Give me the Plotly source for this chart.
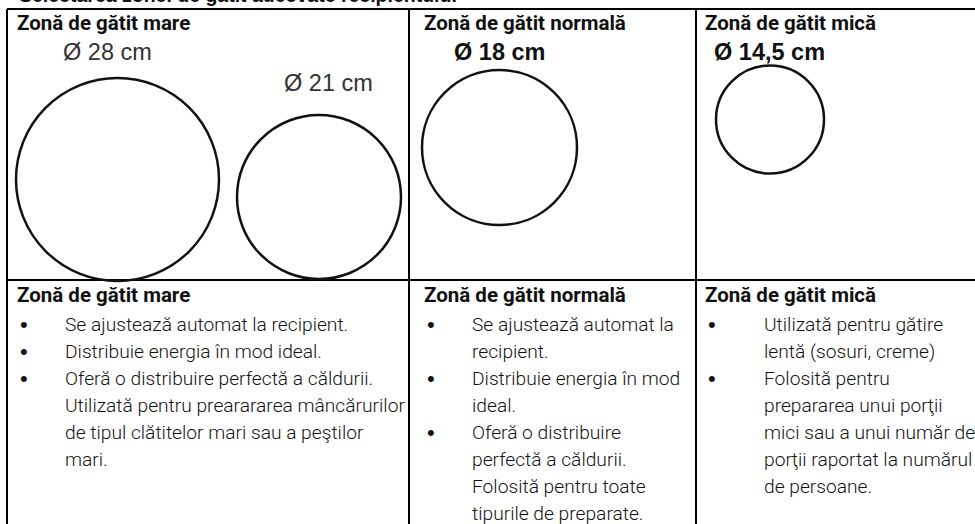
import plotly.graph_objects as go

# ---------------- data ----------------
title_text = "Selectarea zonei de gătit adecvate recipientului"
zones = ["Zonă de gătit mare", "Zonă de gătit normală", "Zonă de gătit mică"]
diameter_labels = ["Ø 28 cm", "Ø 21 cm", "Ø 18 cm", "Ø 14,5 cm"]
diameter_cm = [28, 21, 18, 14.5]
label_bold = [False, False, True, True]

bullets_mare = [
    ["Se ajustează automat la recipient."],
    ["Distribuie energia în mod ideal."],
    ["Oferă o distribuire perfectă a căldurii.",
     "Utilizată pentru prearararea mâncărurilor",
     "de tipul clătitelor mari sau a peştilor",
     "mari."],
]
bullets_normala = [
    ["Se ajustează automat la", "recipient."],
    ["Distribuie energia în mod", "ideal."],
    ["Oferă o distribuire", "perfectă a căldurii.",
     "Folosită pentru toate", "tipurile de preparate."],
]
bullets_mica = [
    ["Utilizată pentru gătire", "lentă (sosuri, creme)"],
    ["Folosită pentru", "prepararea unui porţii",
     "mici sau a unui număr de", "porţii raportat la numărul",
     "de persoane."],
]
bullets = [bullets_mare, bullets_normala, bullets_mica]

# ---------------- layout (positions / styles) ----------------
W, H = 975, 524
col_sep = [7, 409, 696]
top_y, row_y = 9, 280
head_x = [15, 422, 703]
body_x = [63, 470, 762]
head1_y, head2_y = 23, 295
line0_y, line_step = 324, 27
# circle geometry: (cx, cy, r) and label (x, y)
circ_geo = [(117.5, 179.5, 101.5), (319, 197, 82), (499.5, 147.5, 77.5), (770, 119.5, 54)]
label_pos = [(107, 52), (328, 83), (499, 52), (769, 52)]

HEAD_FONT = dict(family="Roboto", size=20.5, color="#111111", weight=700)
BODY_FONT = dict(family="Roboto", size=19.2, color="#111111", weight=300)

fig = go.Figure()
fig.add_trace(go.Scatter(x=[0, W], y=[0, H], mode="markers",
                         marker=dict(opacity=0), hoverinfo="skip", showlegend=False))

shapes = []
# table lines
shapes.append(dict(type="line", x0=col_sep[0], x1=W + 5, y0=top_y, y1=top_y,
                   line=dict(color="black", width=2)))
shapes.append(dict(type="line", x0=col_sep[0], x1=W + 5, y0=row_y, y1=row_y,
                   line=dict(color="black", width=2)))
for xs in col_sep:
    shapes.append(dict(type="line", x0=xs, x1=xs, y0=top_y, y1=H + 5,
                       line=dict(color="black", width=2)))
# circles
for (cx, cy, r) in circ_geo:
    shapes.append(dict(type="circle", x0=cx - r, x1=cx + r, y0=cy - r, y1=cy + r,
                       line=dict(color="#111111", width=2.5)))

ann = []
# title (cut off at the top edge, as in the reference)
ann.append(dict(text="<b>" + title_text + "</b>", xref="paper", yref="paper",
                x=17 / W, y=1 + 5.5 / H, xanchor="left", yanchor="middle",
                showarrow=False, font=dict(family="Liberation Sans", size=19.5, color="#111111")))
# headers
for i, z in enumerate(zones):
    for hy in (head1_y, head2_y):
        ann.append(dict(text=z, x=head_x[i], y=hy, xanchor="left",
                        yanchor="middle", showarrow=False, font=HEAD_FONT))
# diameter labels
for lbl, b, (lx, ly) in zip(diameter_labels, label_bold, label_pos):
    ann.append(dict(text=("<b>" + lbl + "</b>") if b else lbl, x=lx, y=ly,
                    xanchor="center", yanchor="middle", showarrow=False,
                    font=dict(family="Liberation Sans", size=23.5,
                              color="#111111" if b else "#333333")))
# bullet texts
for i, col in enumerate(bullets):
    li = 0
    for item in col:
        y = line0_y + li * line_step
        ann.append(dict(text="•", x=head_x[i] + 3, y=y, xanchor="left", yanchor="middle",
                        showarrow=False, font=dict(family="Liberation Sans", size=22, color="#111111")))
        for line in item:
            y = line0_y + li * line_step
            ann.append(dict(text=line, x=body_x[i], y=y, xanchor="left", yanchor="middle",
                            showarrow=False, font=BODY_FONT))
            li += 1

fig.update_layout(
    width=W, height=H, margin=dict(l=0, r=0, t=0, b=0),
    paper_bgcolor="white", plot_bgcolor="white",
    xaxis=dict(range=[0, W], visible=False, fixedrange=True),
    yaxis=dict(range=[H, 0], visible=False, fixedrange=True),
    shapes=shapes, annotations=ann, showlegend=False,
)
fig.write_html("out.html", config={"displayModeBar": False},
               post_script="document.body.style.margin='0px';document.body.style.overflow='hidden';")
